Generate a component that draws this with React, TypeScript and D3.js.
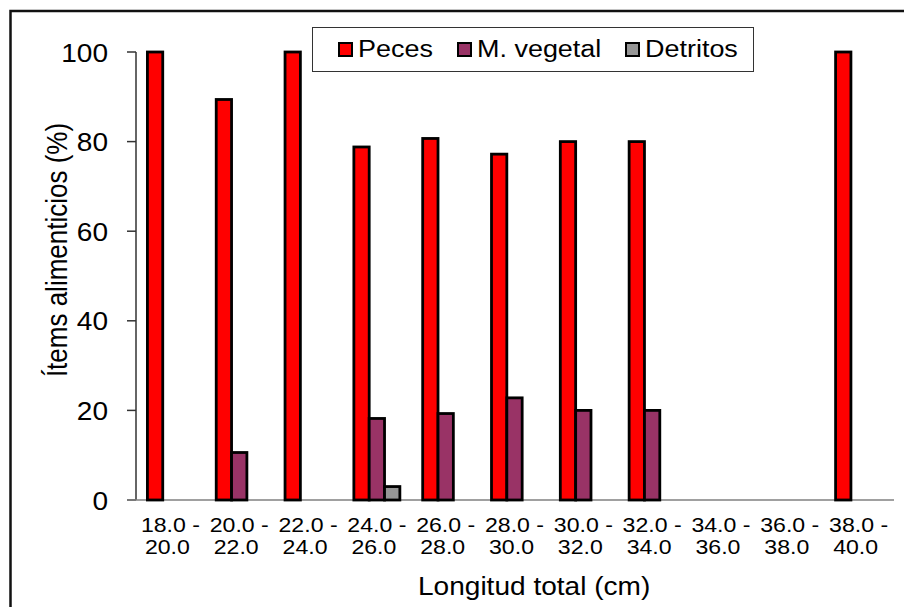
import React, { useEffect, useRef } from "react";
import * as d3 from "d3";

// length classes (cm)
const classesTop = ["18.0 -", "20.0 -", "22.0 -", "24.0 -", "26.0 -", "28.0 -", "30.0 -", "32.0 -", "34.0 -", "36.0 -", "38.0 -"];
const classesBottom = ["20.0", "22.0", "24.0", "26.0", "28.0", "30.0", "32.0", "34.0", "36.0", "38.0", "40.0"];

// % of food items per class
const peces = [100, 89.4, 100, 78.8, 80.7, 77.2, 80, 80, 0, 0, 100];
const vegetal = [0, 10.6, 0, 18.2, 19.3, 22.8, 20, 20, 0, 0, 0];
const detritos = [0, 0, 0, 3, 0, 0, 0, 0, 0, 0, 0];

const seriesNames = ["Peces", "M. vegetal", "Detritos"];
const seriesColors = ["#FF0000", "#993366", "#969696"];
const yTicks = [0, 20, 40, 60, 80, 100];

const FONT = "'Liberation Sans', Arial, sans-serif";
// the original picture is a bit wider than tall
const SX = 1.1;

export default function App() {
  const ref = useRef<SVGSVGElement>(null);

  useEffect(() => {
    document.body.style.margin = "0";
    document.body.style.overflow = "hidden";

    const width = 904;
    const height = 607;
    const svg = d3.select(ref.current);
    svg.selectAll("*").remove();
    svg.attr("width", width).attr("height", height);

    const label = (
      g: d3.Selection<any, unknown, null, undefined>,
      tx: number,
      ty: number,
      txt: string,
      size: number,
      anchor = "start",
      extra = ""
    ) =>
      g
        .append("text")
        .attr("transform", `translate(${tx},${ty}) scale(${SX},1)${extra}`)
        .attr("text-anchor", anchor)
        .style("font-family", FONT)
        .style("font-size", size + "px")
        .attr("fill", "#000")
        .text(txt);

    // chart frame (runs off the right and bottom edge)
    svg
      .append("rect")
      .attr("x", 10.5)
      .attr("y", 11)
      .attr("width", 920)
      .attr("height", 620)
      .attr("fill", "#fff")
      .attr("stroke", "#111")
      .attr("stroke-width", 2.5);

    const x = d3.scaleBand<number>().domain(d3.range(classesTop.length)).range([136, 893]);
    const groupW = 46;
    const xs = d3.scaleBand<number>().domain([0, 1, 2]).range([0, groupW]);
    const y = d3.scaleLinear().domain([0, 100]).range([500, 52]);

    const values = [peces, vegetal, detritos];

    // y axis
    const yAxis = svg.append("g");
    yAxis
      .append("line")
      .attr("x1", 136)
      .attr("x2", 136)
      .attr("y1", y(100))
      .attr("y2", y(0))
      .attr("stroke", "#333")
      .attr("stroke-width", 1.5);
    yAxis
      .selectAll(".tick")
      .data(yTicks)
      .enter()
      .append("line")
      .attr("x1", 127)
      .attr("x2", 136)
      .attr("y1", (d) => y(d))
      .attr("y2", (d) => y(d))
      .attr("stroke", "#333")
      .attr("stroke-width", 1.5);
    yTicks.forEach((t) => label(yAxis, 108, y(t) + 9.5, String(t), 25.5, "end"));

    // x axis line
    svg
      .append("line")
      .attr("x1", 127)
      .attr("x2", 894)
      .attr("y1", y(0))
      .attr("y2", y(0))
      .attr("stroke", "#808080")
      .attr("stroke-width", 1.5);

    // bars
    values.forEach((vals, s) => {
      svg
        .append("g")
        .selectAll("rect")
        .data(vals.map((v, i) => ({ v, i })).filter((d) => d.v > 0))
        .enter()
        .append("rect")
        .attr("x", (d) => (x(d.i) ?? 0) + (x.bandwidth() - groupW) / 2 + (xs(s) ?? 0))
        .attr("y", (d) => y(d.v))
        .attr("width", xs.bandwidth())
        .attr("height", (d) => y(0) - y(d.v))
        .attr("fill", seriesColors[s])
        .attr("stroke", "#000")
        .attr("stroke-width", 2.8);
    });

    // category labels
    const xl = svg.append("g");
    classesTop.forEach((c, i) => {
      const cx = (x(i) ?? 0) + x.bandwidth() / 2;
      label(xl, cx, 532, c, 21, "middle");
      label(xl, cx - 3, 554, classesBottom[i], 21, "middle");
    });

    // axis titles
    label(svg, 418, 595, "Longitud total (cm)", 25.5);
    label(svg, 67, 250, "Ítems alimenticios (%)", 26, "middle", " rotate(-90)");

    // legend
    const lg = svg.append("g");
    lg.append("rect")
      .attr("x", 312.5)
      .attr("y", 27.5)
      .attr("width", 441)
      .attr("height", 44)
      .attr("fill", "#fff")
      .attr("stroke", "#333")
      .attr("stroke-width", 1);
    const itemX = [338, 457, 625];
    seriesNames.forEach((name, s) => {
      lg.append("rect")
        .attr("x", itemX[s] + 1)
        .attr("y", 43)
        .attr("width", 13)
        .attr("height", 13)
        .attr("fill", seriesColors[s])
        .attr("stroke", "#000")
        .attr("stroke-width", 2);
      label(lg, itemX[s] + 20, 57, name, 24.5);
    });
  }, []);

  return (
    <div style={{ position: "absolute", left: 0, top: 0 }}>
      <svg ref={ref} style={{ display: "block" }}></svg>
    </div>
  );
}
